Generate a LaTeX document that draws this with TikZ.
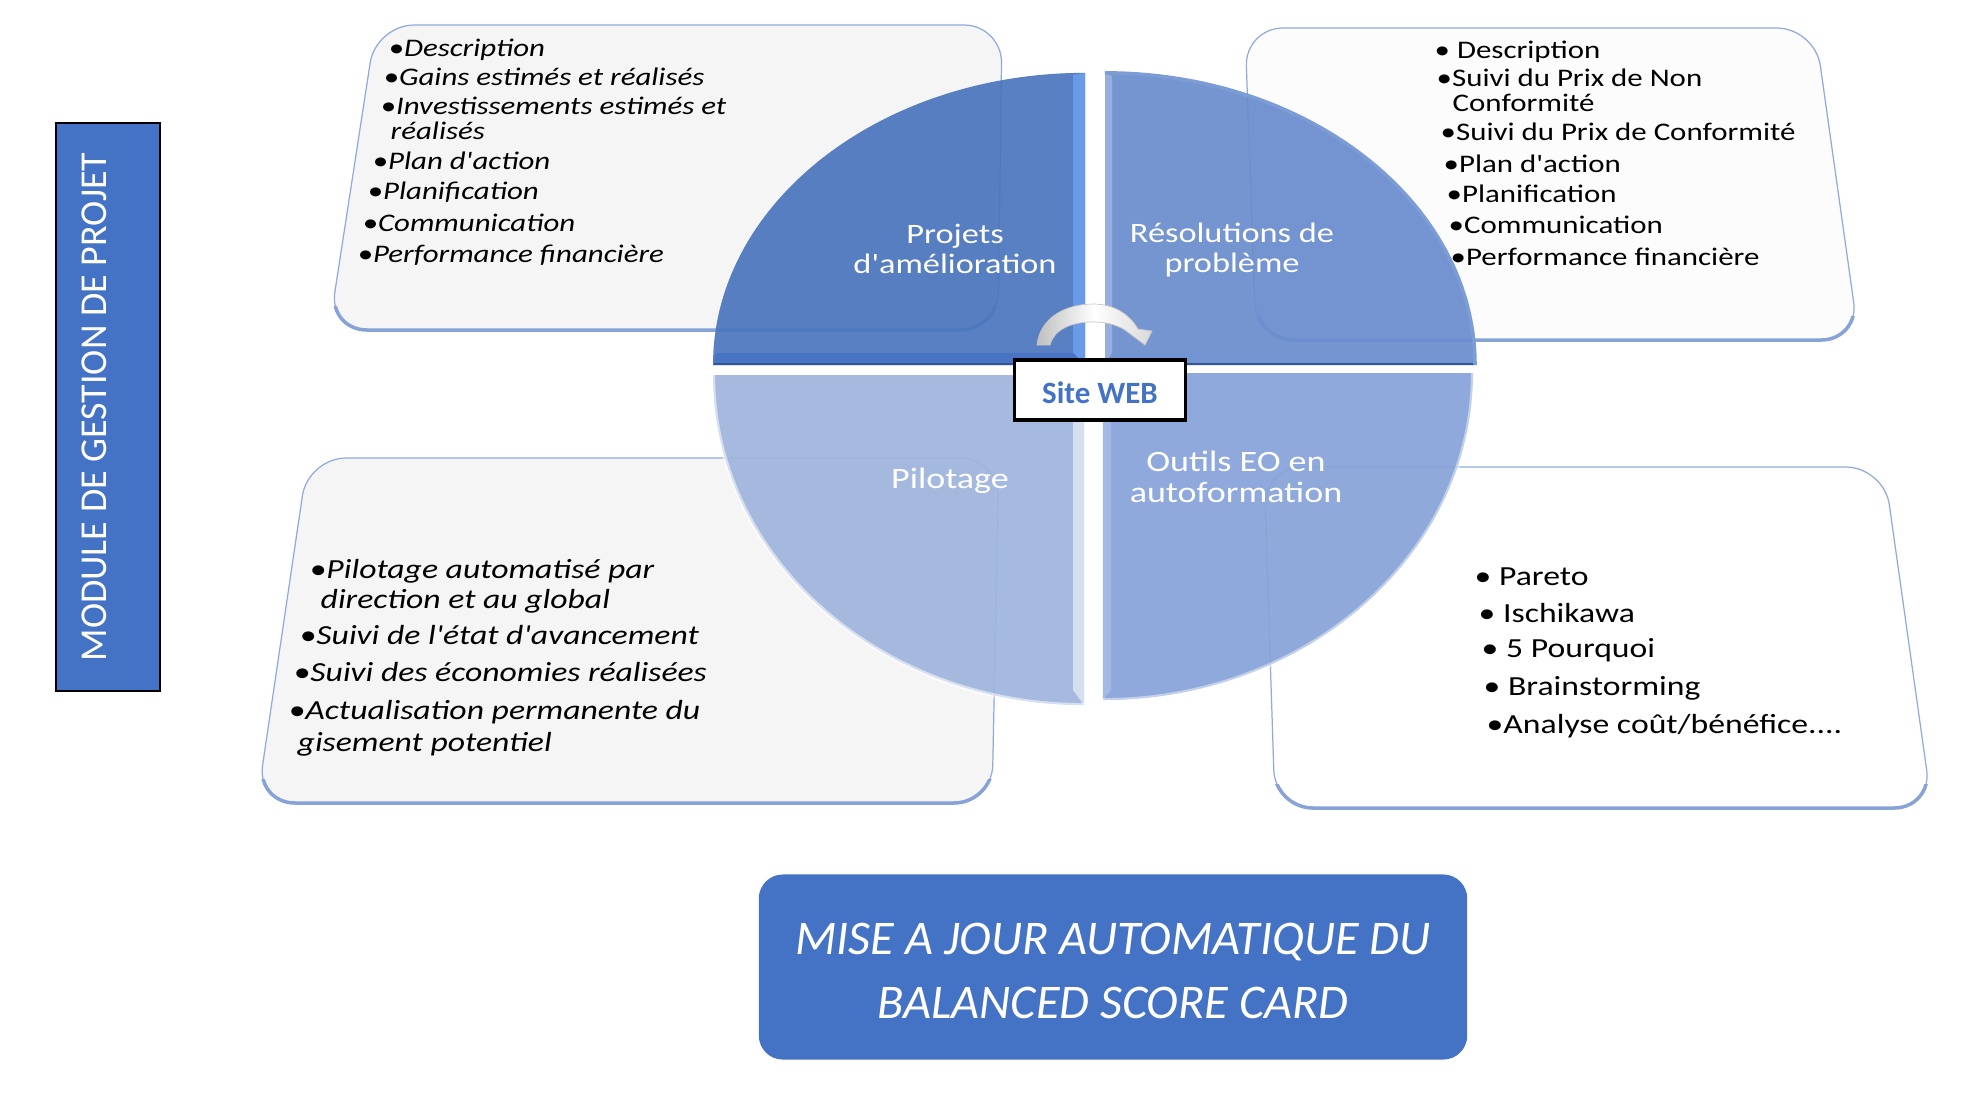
\documentclass[tikz,border=0pt]{standalone}
\usepackage{fontspec}
\setmainfont{Carlito}
\newfontfamily\itemfont[FakeStretch=1.22]{Carlito}
\usetikzlibrary{positioning}
\definecolor{mainblue}{HTML}{4472C4}
\definecolor{edgeblue}{HTML}{8FAADC}
\definecolor{bevelblue}{HTML}{86A2D6}
\definecolor{bevellight}{HTML}{6A9BE8}
\definecolor{quarterA}{HTML}{4B76BD}
\definecolor{quarterB}{HTML}{6A8DCE}
\definecolor{quarterC}{HTML}{9FB5DE}
\definecolor{quarterD}{HTML}{87A3D9}
\definecolor{softgrey}{HTML}{F5F5F5}
\definecolor{softwhite}{HTML}{FCFCFC}
\newcommand{\analysetxt}{•Analyse coût/bénéfice....}
\begin{document}
\begin{tikzpicture}[x=0.01cm,y=-0.01cm,
    quarter/.style={draw=none, fill opacity=.93},
    quarterlabel/.style={text=white, align=center, font=\itemfont\fontsize{8}{8.3}\selectfont},
    lowerlabel/.style={text=white, align=center, font=\itemfont\fontsize{8.4}{8.9}\selectfont},
    smallitem/.style={anchor=base west, inner sep=0pt, yshift=-.085cm, font=\itemfont\fontsize{7.2}{8}\selectfont},
    bigitem/.style={anchor=base west, inner sep=0pt, yshift=-.095cm, font=\itemfont\fontsize{7.85}{9}\selectfont}]
    \useasboundingbox (0,0) rectangle (1973,1099);

    % the four boxes behind the disc
    \foreach \xa/\xb/\xc/\xd/\ya/\yb/\boxfill in {376/1002/329/998/25/330/softgrey,
        1245/1815/1256/1859/28/340/softwhite,
        308/999/257/992/458/803/softgrey,
        1264/1884/1275/1932/467/808/white}{
        \draw[edgeblue, line width=.35pt, fill=\boxfill, rounded corners=.38cm]
            (\xa,\ya) -- (\xb,\ya) -- (\xd,\yb) -- (\xc,\yb) -- cycle;
        \begin{scope}
            \clip (0,\yb-24) rectangle (1973,\yb+8);
            \draw[bevelblue, line width=1pt, rounded corners=.38cm]
                (\xa,\ya) -- (\xb,\ya) -- (\xd,\yb) -- (\xc,\yb) -- cycle;
        \end{scope}
    }

    % disc
    \fill[quarterA, quarter] (713,365) arc[start angle=180, end angle=90, x radius=3.72cm, y radius=2.92cm] -- (1085,365) -- cycle;
    \fill[quarterB, quarter] (1105,73) arc[start angle=90, end angle=0, x radius=3.70cm, y radius=2.92cm] -- (1105,365) -- cycle;
    \fill[quarterC, quarter] (713,375) arc[start angle=180, end angle=270, x radius=3.71cm, y radius=3.30cm] -- (1084,375) -- cycle;
    \fill[quarterD, quarter] (1103,373) -- (1473,373) arc[start angle=0, end angle=-90, x radius=3.70cm, y radius=3.27cm] -- cycle;

    % bevels of the disc
    \fill[bevellight] (1085,73) -- (1085,365) -- (1073,353) -- (1073,75) -- cycle;
    \fill[mainblue, opacity=.8] (713,365) -- (1085,365) -- (1073,353) -- (716,353) -- cycle;
    \fill[mainblue!75!white, opacity=.6] (1105,365) -- (1475,365) -- (1473,353) -- (1117,353) -- cycle;
    \draw[mainblue!75!black, line width=.7pt] (714,364) -- (1085,364) (1105,364) -- (1475,364);
    \fill[white, opacity=.25] (1105,73) -- (1112,76) -- (1112,353) -- (1105,365) -- cycle;
    \fill[white, opacity=.55] (1084,375) -- (1084,705) -- (1073,690) -- (1073,375) -- cycle;
    \fill[white, opacity=.2] (1103,373) -- (1111,373) -- (1111,690) -- (1103,700) -- cycle;
    \draw[white, opacity=.55, line width=1.2pt] (713,375) arc[start angle=180, end angle=270, x radius=3.71cm, y radius=3.30cm];
    \draw[white, opacity=.45, line width=1.2pt] (1473,373) arc[start angle=0, end angle=-90, x radius=3.70cm, y radius=3.27cm];
    \draw[mainblue!70!white, line width=1pt] (1475,365) arc[start angle=0, end angle=90, x radius=3.70cm, y radius=2.92cm];

    % turning arrow above the site box
    \shade[draw=gray!45, line width=.2pt, left color=gray!50, right color=gray!30, middle color=white]
        (1037,345) .. controls (1040,318) and (1065,304) .. (1093,304)
        .. controls (1115,304) and (1130,315) .. (1138,329) -- (1152,331) -- (1145,345) -- (1125,330)
        .. controls (1115,324) and (1105,322) .. (1093,322)
        .. controls (1070,322) and (1054,330) .. (1050,345) -- cycle;

    % labels of the disc
    \node[quarterlabel] (projets) at (955,249) {Projets\\d'amélioration};
    \node[quarterlabel] (resol) at (1232,250) {Résolutions de\\problème};
    \node[lowerlabel] (pilot) at (950,481) {Pilotage};
    \node[lowerlabel] (outils) at (1236,477) {Outils EO en\\autoformation};

    % texts of the boxes
    \foreach \txt/\x/\y [count=\i] in {•Description/388/48, •Gains estimés et réalisés/383/77,
        •Investissements estimés et/380/106, réalisés/390/131, •Plan d'action/372/161,
        •Planification/367/191, •Communication/362/223, •Performance financière/357/254}
        \node[smallitem] (tl\i) at (\x,\y) {\itshape\txt};
    \foreach \txt/\x/\y [count=\i] in {• Description/1434/50, •Suivi du Prix de Non/1436/78,
        Conformité/1452/103, •Suivi du Prix de Conformité/1440/132, •Plan d'action/1443/164,
        •Planification/1446/194, •Communication/1448/225, •Performance financière/1450/257}
        \node[smallitem] (tr\i) at (\x,\y) {\txt};
    \foreach \txt/\x/\y [count=\i] in {•Pilotage automatisé par/309/569, direction et au global/320/599,
        •Suivi de l'état d'avancement/299/635, •Suivi des économies réalisées/293/672,
        •Actualisation permanente du/288/710, gisement potentiel/297/742}
        \node[bigitem] (bl\i) at (\x,\y) {\itshape\txt};
    \foreach \txt/\x/\y [count=\i] in {• Pareto/1474/576, • Ischikawa/1478/613, • 5 Pourquoi/1481/648,
        • Brainstorming/1483/686, \analysetxt/1486/724}
        \node[bigitem] (br\i) at (\x,\y) {\txt};

    \node[draw=black, line width=.9pt, fill=white, minimum width=1.71cm, minimum height=.6cm, inner sep=0pt,
        text=mainblue, font=\bfseries\fontsize{8.8}{9}\selectfont] (sitebox) at (1100,390) {\smash{\raisebox{-3.9pt}{Site WEB}}};
    \node[draw=black, line width=.6pt, fill=mainblue, minimum width=5.68cm, minimum height=1.04cm, inner sep=0pt,
        text=white, rotate=90, font=\fontsize{10.8}{11}\selectfont] (modbox) at (108,407) {\smash{\raisebox{.5pt}{MODULE DE GESTION DE PROJET}}};
    \node[fill=mainblue, rounded corners=.24cm, minimum width=7.08cm, minimum height=1.85cm, inner sep=0pt,
        text=white, align=center, font=\itshape\fontsize{13.75}{18.2}\selectfont] (scorebox) at (1113,967)
        {\rule{0pt}{11pt}MISE A JOUR AUTOMATIQUE DU\\BALANCED SCORE CARD};
\end{tikzpicture}
\end{document}
